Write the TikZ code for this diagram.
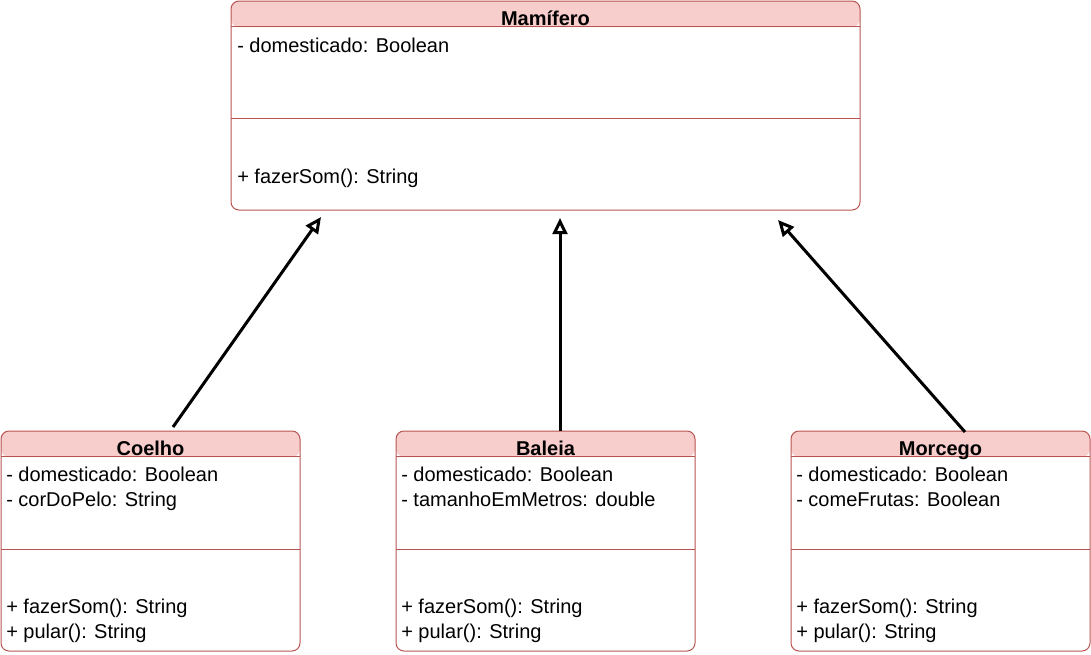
\documentclass[tikz,border=0pt]{standalone}
\usepackage{fontspec}
\setmainfont{Liberation Sans}
\usetikzlibrary{arrows.meta,fit}

\definecolor{headpink}{HTML}{F8CECC}
\definecolor{edgered}{HTML}{B85450}

\begin{document}
\begin{tikzpicture}[x=0.75pt,y=-0.75pt,font=\fontsize{15}{18}\selectfont,
  classbox/.style={draw=edgered,line width=0.75pt,rounded corners=6pt,inner sep=0pt,
    path picture={\fill[headpink] (path picture bounding box.north west)
      rectangle ([yshift=-19.5pt]path picture bounding box.north east);}},
  sepline/.style={draw=edgered,line width=0.75pt},
  classname/.style={anchor=base,font=\fontsize{15}{18}\selectfont\bfseries,inner sep=0pt},
  member/.style={anchor=base west,inner sep=0pt},
  inherit/.style={line width=2.25pt,-{Triangle[open,length=12pt,width=11pt]}}]
\useasboundingbox (0,0) rectangle (1091,654);

% superclass
\node[classbox,fit={(231,1) (860,210)}] (mamifero) {};
\draw[sepline] (231,26.5) -- (860,26.5);
\draw[sepline] (231,118.5) -- (860,118.5);
\node[classname] (mamiferoname) at (545.5,25.5) {Mamífero};
\node[member] (mamiferoa1) at (237,52) {- domesticado: Boolean};
\node[member] (mamiferom1) at (237,183.5) {+ fazerSom(): String};

% subclasses
\node[classbox,fit={(1,431) (300,651)}] (coelho) {};
\draw[sepline] (1,456.5) -- (300,456.5);
\draw[sepline] (1,549) -- (300,549);
\node[classname] (coelhoname) at (150.5,455.5) {Coelho};
\node[member] (coelhoa1) at (6,481.5) {- domesticado: Boolean};
\node[member] (coelhoa2) at (6,506.5) {- corDoPelo: String};
\node[member] (coelhom1) at (6,613.5) {+ fazerSom(): String};
\node[member] (coelhom2) at (6,638.5) {+ pular(): String};

\node[classbox,fit={(396,431) (695,651)}] (baleia) {};
\draw[sepline] (396,456.5) -- (695,456.5);
\draw[sepline] (396,549) -- (695,549);
\node[classname] (baleianame) at (545.5,455.5) {Baleia};
\node[member] (baleiaa1) at (401,481.5) {- domesticado: Boolean};
\node[member] (baleiaa2) at (401,506.5) {- tamanhoEmMetros: double};
\node[member] (baleiam1) at (401,613.5) {+ fazerSom(): String};
\node[member] (baleiam2) at (401,638.5) {+ pular(): String};

\node[classbox,fit={(791,431) (1090,651)}] (morcego) {};
\draw[sepline] (791,456.5) -- (1090,456.5);
\draw[sepline] (791,549) -- (1090,549);
\node[classname] (morceganame) at (940.5,455.5) {Morcego};
\node[member] (morcegoa1) at (796,481.5) {- domesticado: Boolean};
\node[member] (morcegoa2) at (796,506.5) {- comeFrutas: Boolean};
\node[member] (morcegom1) at (796,613.5) {+ fazerSom(): String};
\node[member] (morcegom2) at (796,638.5) {+ pular(): String};

% generalization
\coordinate (coelhotop) at (173,427);
\coordinate (baleiatop) at (560,431);
\coordinate (morcegotop) at (965,432);
\coordinate (tipA) at (321,217);
\coordinate (tipB) at (560,218);
\coordinate (tipC) at (778,220);
\draw[inherit] (coelhotop) -- (tipA);
\draw[inherit] (baleiatop) -- (tipB);
\draw[inherit] (morcegotop) -- (tipC);
\end{tikzpicture}
\end{document}
